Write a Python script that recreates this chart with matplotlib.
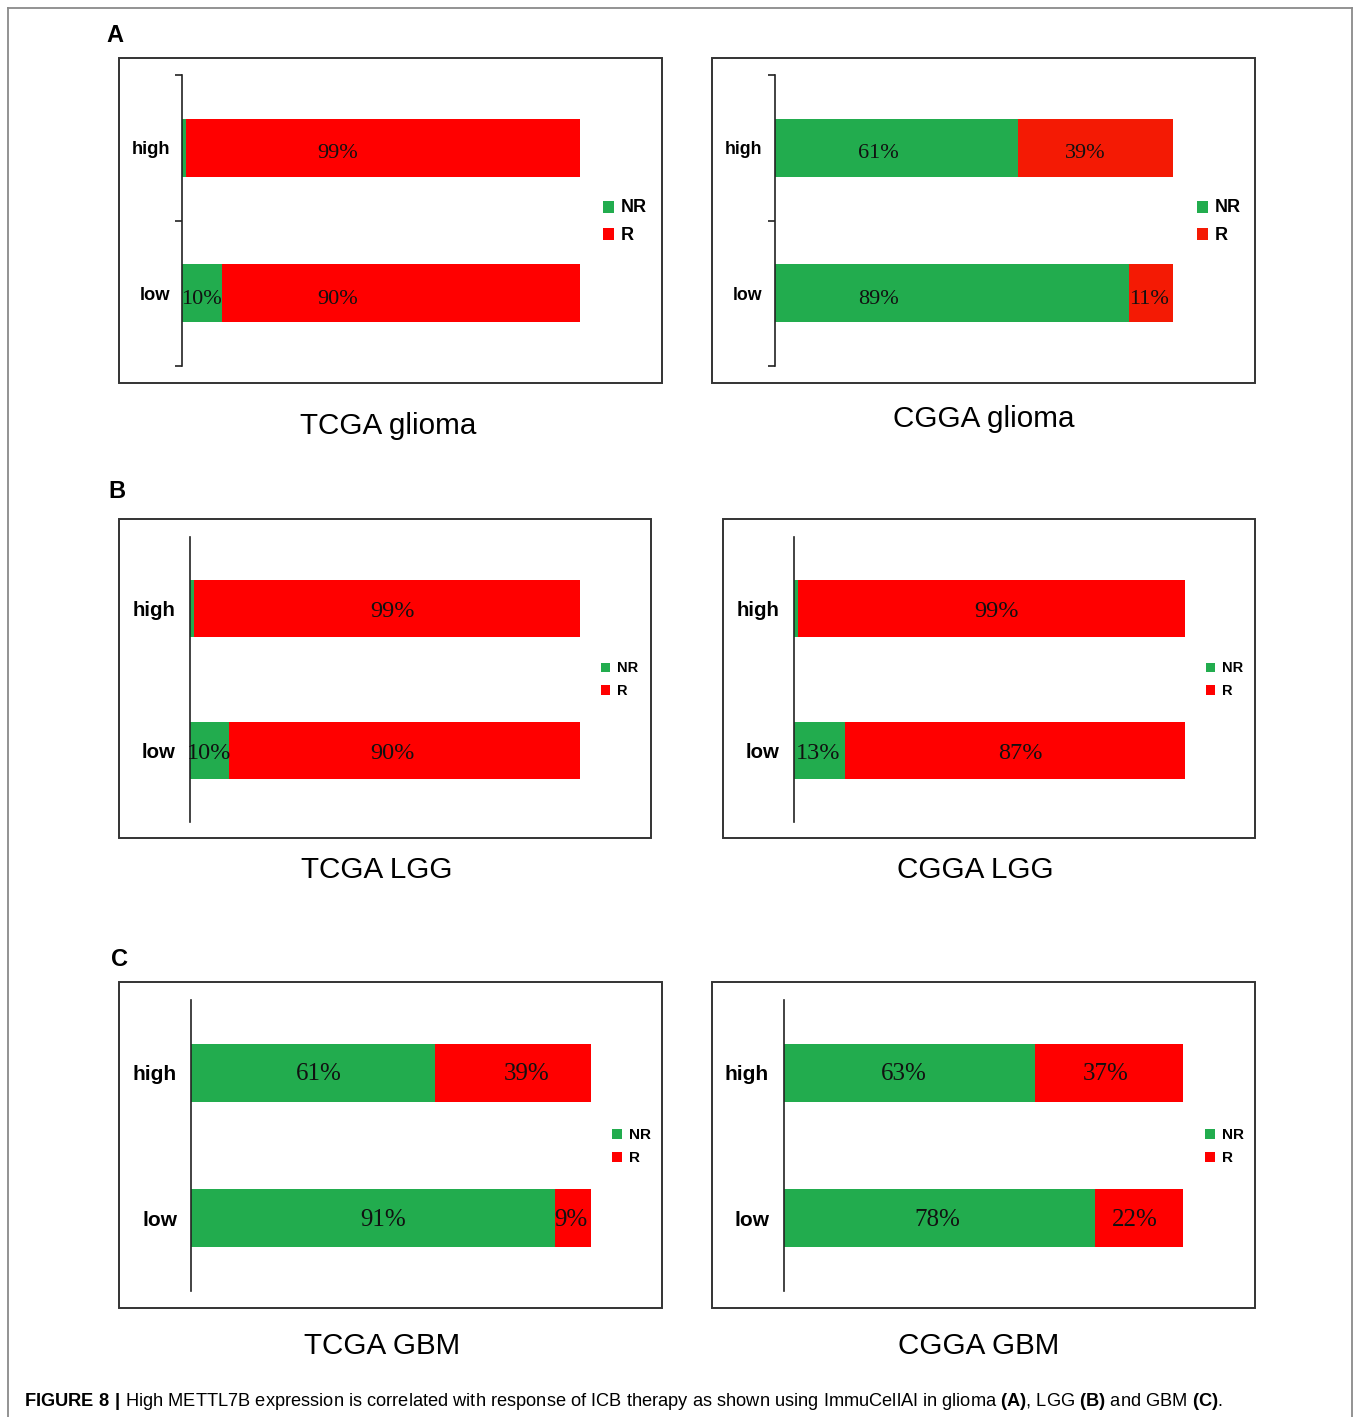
import matplotlib
matplotlib.use("Agg")
import matplotlib.pyplot as plt
from matplotlib.lines import Line2D
from matplotlib.patches import Rectangle

# ---------------- data ----------------
categories = ["low", "high"]          # y positions 0, 1
series_names = ["NR", "R"]

tcga_glioma_nr = [10, 1]
tcga_glioma_r = [90, 99]
cgga_glioma_nr = [89, 61]
cgga_glioma_r = [11, 39]
tcga_lgg_nr = [10, 1]
tcga_lgg_r = [90, 99]
cgga_lgg_nr = [13, 1]
cgga_lgg_r = [87, 99]
tcga_gbm_nr = [91, 61]
tcga_gbm_r = [9, 39]
cgga_gbm_nr = [78, 63]
cgga_gbm_r = [22, 37]

panel_titles = ["TCGA glioma", "CGGA glioma", "TCGA LGG", "CGGA LGG", "TCGA GBM", "CGGA GBM"]
panel_letters = ["A", "B", "C"]
caption = (r"$\mathbf{FIGURE\ 8\ |}$ High METTL7B expression is correlated with response of ICB "
           r"therapy as shown using ImmuCellAI in glioma $\mathbf{(A)}$, LGG $\mathbf{(B)}$ "
           r"and GBM $\mathbf{(C)}$.")

# ---------------- layout (pixels, top-left origin) ----------------
W, H, DPI = 1354, 1417, 100
GREEN = "#22AC4E"
RED = "#FF0000"

plt.rcParams["mathtext.fontset"] = "custom"
plt.rcParams["mathtext.rm"] = "Liberation Sans"
plt.rcParams["mathtext.bf"] = "Liberation Sans:bold"

panels = [
    dict(nr=tcga_glioma_nr, r=tcga_glioma_r, title=panel_titles[0],
         box=(119, 58, 662, 383), ax_x=182, bar_end=580, ax_y=(75, 366), bracket=True,
         tick_fs=13.2, tick_pad=12, leg=(603, 207, 27), leg_fs=13, sq=11, pct_fs=16,
         title_xy=(388, 425), nr_lab=[5, None], r_lab=[39, 39], red=RED, lab_dy=0.04),
    dict(nr=cgga_glioma_nr, r=cgga_glioma_r, title=panel_titles[1],
         box=(712, 58, 1255, 383), ax_x=775, bar_end=1173, ax_y=(75, 366), bracket=True,
         tick_fs=12.8, tick_pad=13, leg=(1197, 207, 27), leg_fs=13, sq=11, pct_fs=16,
         title_xy=(984, 418), nr_lab=[26, 26], r_lab=[94, 78], red="#F41A04", lab_dy=0.04),
    dict(nr=tcga_lgg_nr, r=tcga_lgg_r, title=panel_titles[2],
         box=(119, 519, 651, 838), ax_x=190, bar_end=580, ax_y=(537, 822), bracket=False,
         tick_fs=14.7, tick_pad=14, leg=(601, 667, 23), leg_fs=10.5, sq=9, pct_fs=17.5,
         title_xy=(377, 869), nr_lab=[5, None], r_lab=[52, 52], red=RED, lab_dy=0.02),
    dict(nr=cgga_lgg_nr, r=cgga_lgg_r, title=panel_titles[3],
         box=(723, 519, 1255, 838), ax_x=794, bar_end=1185, ax_y=(537, 822), bracket=False,
         tick_fs=14.7, tick_pad=15, leg=(1206, 667, 23), leg_fs=10.5, sq=9, pct_fs=17.5,
         title_xy=(975, 869), nr_lab=[6.1, None], r_lab=[57.8, 51.7], red=RED, lab_dy=0.02),
    dict(nr=tcga_gbm_nr, r=tcga_gbm_r, title=panel_titles[4],
         box=(119, 982, 662, 1308), ax_x=191, bar_end=591, ax_y=(1000, 1291), bracket=False,
         tick_fs=15, tick_pad=14, leg=(612, 1134, 23), leg_fs=11, sq=10, pct_fs=18,
         title_xy=(382, 1345), nr_lab=[48, 32], r_lab=[95, 84], red=RED, lab_dy=0.01),
    dict(nr=cgga_gbm_nr, r=cgga_gbm_r, title=panel_titles[5],
         box=(712, 982, 1255, 1308), ax_x=784, bar_end=1183, ax_y=(1000, 1291), bracket=False,
         tick_fs=15, tick_pad=15, leg=(1205, 1134, 23), leg_fs=11, sq=10, pct_fs=18,
         title_xy=(979, 1345), nr_lab=[38.4, 30], r_lab=[88, 80.7], red=RED, lab_dy=0.01),
]
letter_xy = [(115, 35), (117, 492), (119, 960)]


def fx(x):
    return x / W


def fy(y):
    return 1 - y / H


fig = plt.figure(figsize=(W / DPI, H / DPI), dpi=DPI)
fig.patch.set_facecolor("white")

# outer frame (left, top, right)
frame_c = "#8a8a8a"
fig.add_artist(Line2D([fx(8), fx(8)], [0, fy(8)], color=frame_c, lw=1.3, transform=fig.transFigure))
fig.add_artist(Line2D([fx(8), fx(1352)], [fy(8), fy(8)], color=frame_c, lw=1.3, transform=fig.transFigure))
fig.add_artist(Line2D([fx(1352), fx(1352)], [0, fy(8)], color=frame_c, lw=1.3, transform=fig.transFigure))

ypos = list(range(len(categories)))

for p in panels:
    x0, y0, x1, y1 = p["box"]
    fig.add_artist(Rectangle((fx(x0), fy(y1)), fx(x1) - fx(x0), fy(y0) - fy(y1),
                             transform=fig.transFigure, fill=False, edgecolor="#333333", lw=1.4))
    ax = fig.add_axes([fx(p["ax_x"]), fy(p["ax_y"][1]),
                       fx(p["bar_end"]) - fx(p["ax_x"]), fy(p["ax_y"][0]) - fy(p["ax_y"][1])])
    ax.set_facecolor("none")
    ax.barh(ypos, p["nr"], height=0.4, color=GREEN, label=series_names[0])
    ax.barh(ypos, p["r"], left=p["nr"], height=0.4, color=p["red"], label=series_names[1])
    ax.set_xlim(0, 100)
    ax.set_ylim(-0.5, 1.5)
    for s in ["top", "right", "bottom"]:
        ax.spines[s].set_visible(False)
    ax.spines["left"].set_color("#222222")
    ax.spines["left"].set_linewidth(1.2)
    ax.set_xticks([])
    if p["bracket"]:
        ax.set_yticks([-0.5, 0.5, 1.5])
        ax.tick_params(axis="y", which="major", direction="out", length=5, width=1.2,
                       color="#222222", labelleft=False)
    else:
        ax.set_yticks([])
    ax.set_yticks(ypos, minor=True)
    ax.set_yticklabels(categories, minor=True, fontsize=p["tick_fs"], fontweight="bold",
                       family="Liberation Sans")
    ax.tick_params(axis="y", which="minor", length=0, pad=p["tick_pad"] * 72 / DPI)

    # percentage labels
    for i in ypos:
        for val, lx in ((p["nr"][i], p["nr_lab"][i]), (p["r"][i], p["r_lab"][i])):
            if lx is None:
                continue
            ax.text(lx, i - p["lab_dy"], f"{val}%", ha="center", va="center",
                    fontsize=p["pct_fs"], family="Liberation Serif", color="#111111")

    # legend
    lx, ly, ldy = p["leg"]
    sq = p["sq"]
    for k, (name, col) in enumerate(zip(series_names, [GREEN, p["red"]])):
        cy = ly + k * ldy
        fig.add_artist(Rectangle((fx(lx), fy(cy + sq / 2)), sq / W, sq / H,
                                 transform=fig.transFigure, color=col, lw=0))
        fig.text(fx(lx + sq + 7), fy(cy + 1), name, fontsize=p["leg_fs"], fontweight="bold",
                 family="Liberation Sans", ha="left", va="center")

    fig.text(fx(p["title_xy"][0]), fy(p["title_xy"][1] + 1), p["title"], fontsize=21.3,
             family="Liberation Sans", ha="center", va="center")

for letter, (lx, ly) in zip(panel_letters, letter_xy):
    fig.text(fx(lx), fy(ly), letter, fontsize=17, fontweight="bold", family="Liberation Sans",
             ha="center", va="center")

# caption, scaled to span the reference width
cap = fig.text(fx(24), fy(1402), caption, fontsize=12, family="Liberation Sans",
               ha="left", va="center")
fig.canvas.draw()
w = cap.get_window_extent(fig.canvas.get_renderer()).width
cap.set_fontsize(12 * (1218 - 24) / w)

fig.savefig("out.png", dpi=DPI, facecolor="white")
